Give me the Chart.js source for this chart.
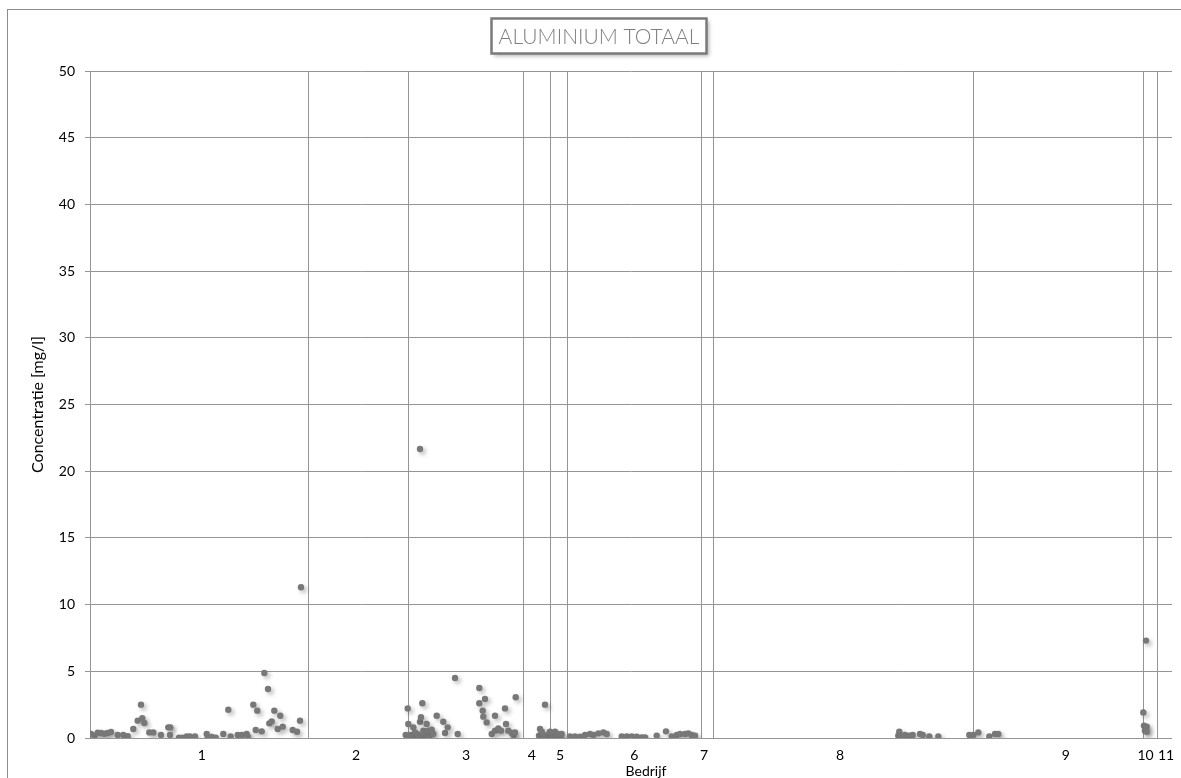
<!DOCTYPE html>
<html><head><meta charset="utf-8">
<script src="https://cdn.jsdelivr.net/npm/chart.js@4.4.1/dist/chart.umd.min.js"></script>
<style>html,body{margin:0;padding:0;background:#fff}#wrap{width:1181px;height:778px;position:relative}</style>
</head><body><div id="wrap"><canvas id="c" width="1181" height="778"></canvas></div>
<script>
const chartTitle = 'ALUMINIUM TOTAAL';
const yAxisTitle = 'Concentratie [mg/l]';
const xAxisTitle = 'Bedrijf';
const categories = ['1','2','3','4','5','6','7','8','9','10','11'];
const categoryLabelPos = [111.7,266,376,441.7,470,544.3,614,750,975.7,1055.5,1076];
const categoryBoundaries = [218.3,317.7,432.7,460,477,610.7,623.3,882.7,1053.3,1066.7];
const xRange = [0, 1082];
const yTicks = [0,5,10,15,20,25,30,35,40,45,50];

const b1Pos = [1,4.3,7.7,11,14.3,17.7,21,27.7,33.3,37.7,43.3,47.7,51,52.3,54.3,59.3,63.3,71,78.3,80.3,80,89,92.3,96.7,100,105,116.7,117.7,121.7,125.7,133.3,138.3,140.7,147.7,151.7,156.7,157.7,163.3,167.3,165.7,171.7,174.3,178,179.3,181.7,184.3,187.7,190.3,192.7,202.7,207,210,211];
const b1Val = [0.3,0.17,0.4,0.37,0.32,0.37,0.45,0.22,0.22,0.13,0.67,1.3,2.5,1.48,1.12,0.42,0.42,0.22,0.8,0.8,0.22,0.02,0.02,0.12,0.12,0.12,0.3,0.02,0.07,0.02,0.3,2.12,0.12,0.22,0.22,0.3,0.12,2.5,2.05,0.6,0.5,4.87,3.67,1.1,1.25,2.05,0.67,1.67,0.85,0.6,0.47,1.3,11.3];
const b23Pos = [315.7,317.7,318.3,320,322,323.3,324,325,326.7,327,328.3,329,330,330,331,331.7,332.3,333.3,334,335,336.7,337,338.3,339,341.7,343.3,346.7,353.3,355,357.7,365,367.7,389.3,389.3,392.7,393.3,395,396.7,401.7,405,405,408.3,411,415,416,418.3,421.7,423.3,425,425.7];
const b23Val = [0.22,2.22,1.05,0.22,0.05,0.8,0.15,0.42,0.12,0.3,0.22,0.05,1.22,21.66,1.55,0.05,2.6,0.55,0.15,0.3,1.05,0.2,0.55,0.1,0.62,0.3,1.67,1.22,0.37,0.8,4.5,0.3,3.75,2.6,2.05,1.6,2.92,1.17,0.3,1.67,0.55,0.72,0.55,2.22,1.05,0.55,0.37,0.22,0.42,3.05];
const b45Pos = [449,450,451.7,453.3,455,457,459,460,461.7,463,463.3,465,466,467.7,468,470];
const b45Val = [0.17,0.67,0.47,0.22,2.5,0.1,0.3,0.47,0.05,0.05,0.22,0.47,0.15,0.3,0.2,0.12];
const b6Pos = [471.7,480,485,490,495,500,503.3,508.3,513.3,516.7,531.7,536.7,541.7,546.7,551.7,555,566.7,576,581.7,586.7,590,595,598.3,601.7,605];
const b6Val = [0.3,0.12,0.12,0.1,0.22,0.3,0.22,0.35,0.42,0.3,0.12,0.12,0.12,0.1,0.05,0.05,0.17,0.5,0.12,0.22,0.3,0.3,0.35,0.22,0.17];
const b89Pos = [808.3,809.3,811.7,815,819.3,822.7,830,832.7,839.3,848.3,879.3,883.3,888.3,899.3,905,908.3];
const b89Val = [0.17,0.47,0.12,0.22,0.17,0.22,0.3,0.22,0.12,0.12,0.22,0.22,0.42,0.12,0.3,0.3];
const b10Pos = [1053.3,1054,1055,1056,1056.7,1056.7];
const b10Val = [1.92,0.92,0.55,7.3,0.85,0.47];
const xTitlePos = 556;

const groups = [[b1Pos,b1Val],[b23Pos,b23Val],[b45Pos,b45Val],[b6Pos,b6Val],[b89Pos,b89Val],[b10Pos,b10Val]];
const points = [];
groups.forEach(([p,v]) => p.forEach((x,i) => points.push({x:x, y:v[i]})));

const FONT = 'Lato, "Open Sans", sans-serif';
const GRID = '#959595';

const framePlugin = {
  id: 'frame',
  beforeDraw(chart) {
    const ctx = chart.ctx;
    ctx.save();
    ctx.fillStyle = '#fff';
    ctx.fillRect(0,0,chart.width,chart.height);
    ctx.strokeStyle = '#8c8c8c';
    ctx.lineWidth = 1;
    ctx.strokeRect(7.5, 9.5, chart.width + 20, chart.height + 20);
    ctx.restore();
  },
  beforeDatasetsDraw(chart) {
    const ctx = chart.ctx, xs = chart.scales.x, a = chart.chartArea;
    ctx.save();
    ctx.strokeStyle = GRID;
    ctx.lineWidth = 1;
    categoryBoundaries.forEach(b => {
      const px = Math.round(xs.getPixelForValue(b)) + 0.5;
      ctx.beginPath(); ctx.moveTo(px, a.top); ctx.lineTo(px, a.bottom); ctx.stroke();
    });
    ctx.restore();
  },
  beforeDatasetDraw(chart) {
    const ctx = chart.ctx;
    ctx.save();
    ctx.shadowColor = 'rgba(0,0,0,0.28)';
    ctx.shadowBlur = 4;
    ctx.shadowOffsetX = 2.5;
    ctx.shadowOffsetY = 2.5;
  },
  afterDatasetDraw(chart) { chart.ctx.restore(); },
  afterDraw(chart) {
    const ctx = chart.ctx, xs = chart.scales.x;
    ctx.save();
    ctx.fillStyle = '#000';
    ctx.font = '14px ' + FONT;
    ctx.textAlign = 'center';
    ctx.textBaseline = 'middle';
    ctx.fillText(xAxisTitle, xs.getPixelForValue(xTitlePos), 771);
    const bx = 491.5, by = 18.5, bw = 215, bh = 35;
    ctx.save();
    ctx.shadowColor = 'rgba(0,0,0,0.3)';
    ctx.shadowBlur = 4; ctx.shadowOffsetX = 2; ctx.shadowOffsetY = 2;
    ctx.fillStyle = '#fff';
    ctx.fillRect(bx, by, bw, bh);
    ctx.restore();
    ctx.strokeStyle = '#7a7a7a';
    ctx.lineWidth = 2.5;
    ctx.strokeRect(bx, by, bw, bh);
    ctx.fillStyle = '#7f7f7f';
    ctx.font = '300 21px ' + FONT;
    ctx.fillText(chartTitle, bx + bw/2, by + bh/2 + 1);
    ctx.restore();
  }
};

new Chart(document.getElementById('c'), {
  type: 'scatter',
  data: { datasets: [{
    data: points,
    backgroundColor: '#787878',
    borderWidth: 0,
    pointRadius: 3.2,
    pointHoverRadius: 3.2
  }]},
  options: {
    responsive: false,
    animation: false,
    devicePixelRatio: 1,
    layout: { padding: { top: 71, right: 9, left: 0, bottom: 0 } },
    plugins: { legend: { display: false }, tooltip: { enabled: false }, title: { display: false } },
    scales: {
      x: {
        type: 'linear', min: xRange[0], max: xRange[1],
        afterBuildTicks(s) { s.ticks = categoryLabelPos.map(v => ({ value: v })); },
        afterFit(s) { s.height = 40; s.paddingLeft = 0; s.paddingRight = 0; },
        ticks: { autoSkip: false, maxRotation: 0, minRotation: 0, color: '#000', font: { family: FONT, size: 14 }, padding: 9,
                 callback: (v, i) => categories[i] },
        grid: { display: false, drawTicks: false },
        border: { display: false }
      },
      y: {
        min: 0, max: 50,
        afterBuildTicks(s) { s.ticks = yTicks.map(v => ({ value: v })); },
        afterFit(s) { s.width = 90; },
        ticks: { color: '#000', font: { family: FONT, size: 14 }, padding: 10 },
        grid: { color: GRID, lineWidth: 1, tickLength: 5, drawTicks: true, tickColor: GRID },
        border: { color: GRID, width: 1 },
        title: { display: true, text: yAxisTitle, color: '#000', font: { family: FONT, size: 16 }, padding: { top: 28, bottom: 0 } }
      }
    }
  },
  plugins: [framePlugin]
});
</script>
</body></html>
